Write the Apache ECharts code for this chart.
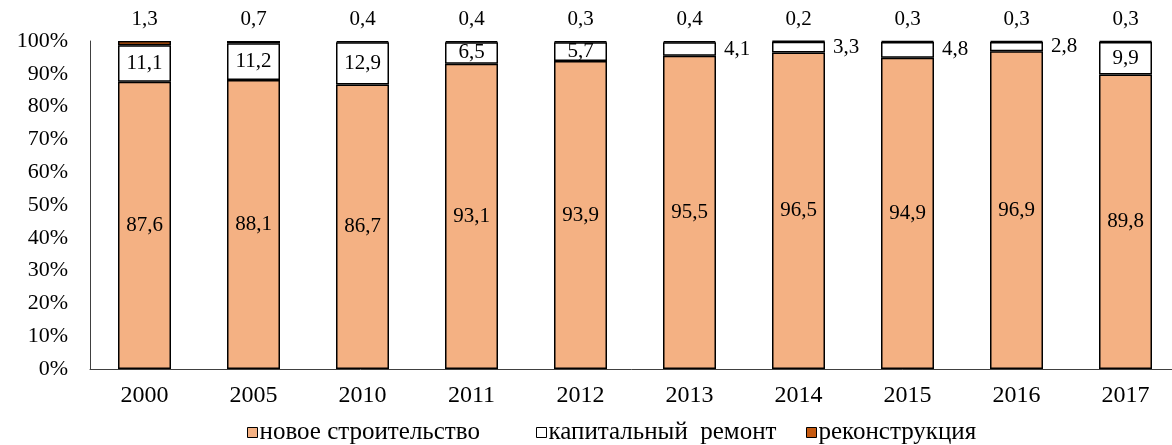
<!DOCTYPE html>
<html>
	<head>
		<meta charset="UTF-8">
		<title></title>
		<script src="https://cdn.jsdelivr.net/npm/echarts@6/dist/echarts.min.js" type="text/javascript" charset="utf-8"></script>
	</head>
	<body style="margin:0;">
		<div id="chart" style="height: 445px;width: 1172px;"></div>
		<script type="text/javascript">
			var years = ['2000', '2005', '2010', '2011', '2012', '2013', '2014', '2015', '2016', '2017'];
			var newBuild = [87.6, 88.1, 86.7, 93.1, 93.9, 95.5, 96.5, 94.9, 96.9, 89.8];
			var repair = [11.1, 11.2, 12.9, 6.5, 5.7, 4.1, 3.3, 4.8, 2.8, 9.9];
			var rebuild = [1.3, 0.7, 0.4, 0.4, 0.3, 0.4, 0.2, 0.3, 0.3, 0.3];
			var names = ['новое строительство', 'капитальный  ремонт', 'реконструкция'];
			var colors = ['#f4b183', '#ffffff', '#c55a11'];

			var font = 'Liberation Serif';
			var fmt = function (p) {
				return String(p.value).replace('.', ',');
			};
			var border = {borderColor: '#000', borderWidth: 1.5};

			// маленькие значения ремонта подписываем справа от столбца
			var repairData = repair.map(v => {
				return {
					value: v,
					label: {position: v < 5 ? 'right' : 'inside', distance: 8}
				};
			});

			var legendLeft = [242, 531, 801];
			var legends = names.map((n, i) => {
				return {
					data: [n],
					left: legendLeft[i],
					top: 415,
					itemWidth: 10,
					itemHeight: 10,
					itemGap: 0,
					icon: 'rect',
					itemStyle: {borderColor: '#000', borderWidth: 1},
					textStyle: {fontFamily: font, fontSize: 25, color: '#000', padding: [0, 0, 0, -3]},
					selectedMode: false
				};
			});

			var chart = echarts.init(document.getElementById('chart'));
			var option = {
				animation: false,
				color: colors,
				textStyle: {fontFamily: font},
				grid: {left: 90, top: 41, width: 1090, height: 328, outerBoundsMode: 'none'},
				legend: legends,
				xAxis: {
					type: 'category',
					data: years,
					axisLine: {lineStyle: {color: '#404040', width: 1}},
					axisTick: {show: false},
					axisLabel: {fontFamily: font, fontSize: 24, color: '#000', margin: 15}
				},
				yAxis: {
					type: 'value',
					min: 0,
					max: 100,
					interval: 10,
					axisLine: {show: true, lineStyle: {color: '#404040', width: 1}},
					axisTick: {show: false},
					splitLine: {show: false},
					axisLabel: {fontFamily: font, fontSize: 22, color: '#000', margin: 22, formatter: '{value}%'}
				},
				series: [
					{
						name: names[0],
						type: 'bar',
						stack: 'all',
						barWidth: 53,
						data: newBuild,
						itemStyle: border,
						label: {show: true, position: 'inside', fontFamily: font, fontSize: 21, color: '#000', formatter: fmt}
					},
					{
						name: names[1],
						type: 'bar',
						stack: 'all',
						barWidth: 53,
						data: repairData,
						itemStyle: border,
						label: {show: true, fontFamily: font, fontSize: 21, color: '#000', formatter: fmt}
					},
					{
						name: names[2],
						type: 'bar',
						stack: 'all',
						barWidth: 53,
						data: rebuild,
						itemStyle: border,
						label: {show: true, position: 'top', distance: 11, fontFamily: font, fontSize: 21, color: '#000', formatter: fmt}
					}
				]
			};
			chart.setOption(option, true);
		</script>
	</body>
</html>
